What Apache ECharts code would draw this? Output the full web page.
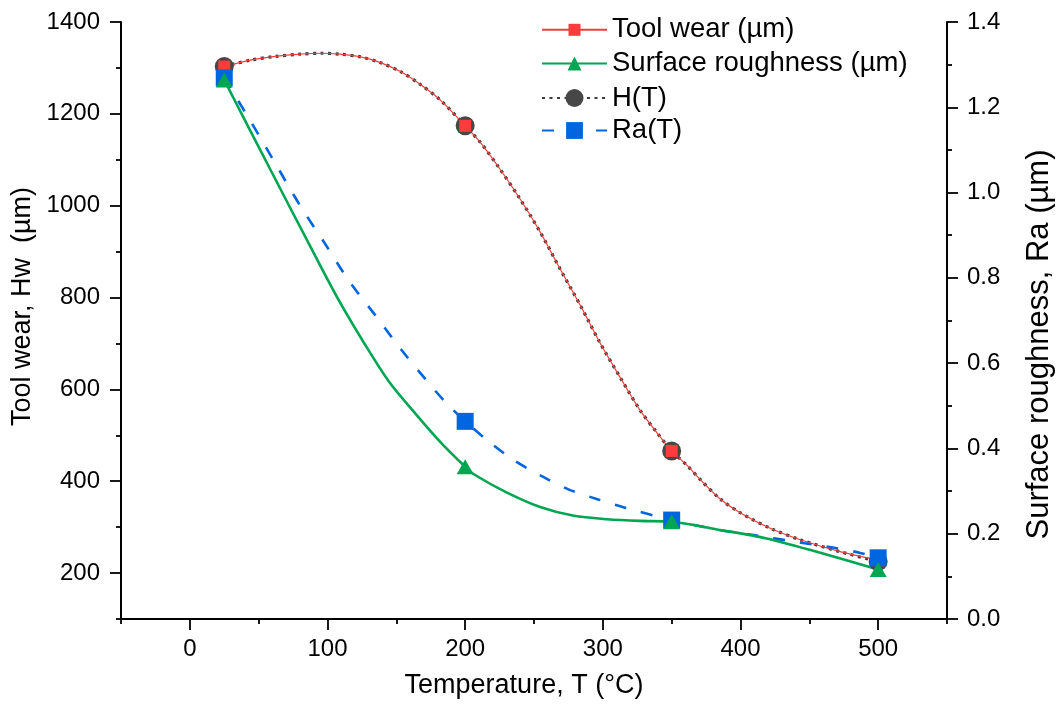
<!DOCTYPE html>
<html><head><meta charset="utf-8">
<script src="https://cdn.jsdelivr.net/npm/echarts@6/dist/echarts.min.js"></script>
<style>html,body{margin:0;padding:0;background:#fff}#c{width:1056px;height:708px}</style>
</head><body><div id="c"></div>
<script>
// ---- measured data points ----
const temps = [25, 200, 350, 500];
const toolWear = [1303, 1174, 466, 228];               // µm (left axis)
const surfaceRoughness = [1.264, 0.357, 0.228, 0.116]; // µm (right axis)
const hFit = [1303, 1174, 466, 225];                   // H(T) markers (left axis)
const raFit = [1.269, 0.4635, 0.232, 0.1435];          // Ra(T) markers (right axis)

// ---- curves ----
const wearCurveT = [25, 44, 62, 80, 95, 109, 124, 138, 153, 167, 182, 200, 211, 225, 240, 255, 269, 284, 298, 313, 327, 339, 350, 361, 371, 385, 400, 422, 444, 473, 500];
const wearCurveV = [1303, 1317, 1325, 1330, 1332, 1330, 1324, 1312, 1292, 1265, 1230, 1174, 1138, 1081, 1014, 940, 862, 781, 701, 624, 555, 507, 466, 435, 403, 362, 331, 297, 272, 246, 228];
const roughCurveT = [25, 58, 91, 109, 127, 145, 164, 182, 200, 206, 230, 255, 279, 303, 327, 350, 383, 419, 456, 500];
const roughCurveV = [1.264, 1.057, 0.852, 0.743, 0.645, 0.555, 0.481, 0.415, 0.357, 0.340, 0.297, 0.262, 0.242, 0.234, 0.230, 0.228, 0.210, 0.189, 0.157, 0.116];
const raCurveT = [25, 44, 62, 80, 98, 116, 135, 153, 171, 185, 200, 218, 236, 255, 275, 296, 316, 350, 383, 407, 444, 468, 487, 500];
const raCurveV = [1.269, 1.168, 1.069, 0.970, 0.881, 0.791, 0.711, 0.634, 0.563, 0.511, 0.4635, 0.414, 0.371, 0.336, 0.304, 0.281, 0.261, 0.232, 0.210, 0.198, 0.179, 0.167, 0.155, 0.1435];

// ---- tick labels ----
const xTicks = [0, 100, 200, 300, 400, 500];
const xMinor = [-50, 50, 150, 250, 350, 450, 550];
const yLeftTicks = [200, 400, 600, 800, 1000, 1200, 1400];
const yLeftMinor = [100, 300, 500, 700, 900, 1100, 1300];
const yRightTicks = [0, 0.2, 0.4, 0.6, 0.8, 1.0, 1.2, 1.4];
const yRightMinor = [0.1, 0.3, 0.5, 0.7, 0.9, 1.1, 1.3];

const FONT = 'Arial, "Liberation Sans", sans-serif';

function merge(ct, cv, pt, pv) {
  const items = [];
  ct.forEach((t, i) => {
    if (!pt.some(p => Math.abs(p - t) < 1)) items.push({ value: [t, cv[i]], symbol: 'none' });
  });
  pt.forEach((t, i) => items.push({ value: [t, pv[i]] }));
  items.sort((a, b) => a.value[0] - b.value[0]);
  return items;
}

const axisLineStyle = { color: '#000', width: 2 };
const tickStyle = { color: '#000', width: 1.8 };

const chart = echarts.init(document.getElementById('c'), null, { renderer: 'canvas' });
chart.setOption({
  animation: false,
  backgroundColor: '#fff',
  textStyle: { fontFamily: FONT },
  grid: { left: 121, right: 109, top: 22, bottom: 89, containLabel: false, outerBoundsMode: 'none' },
  legend: [
    { name: 'Tool wear (µm)', top: 15.8, itemHeight: 15 },
    { name: 'Surface roughness (µm)', top: 49.5, itemHeight: 17.5 },
    { name: 'H(T)', top: 84, itemHeight: 22.5 },
    { name: 'Ra(T)', top: 116.5, itemHeight: 21 }
  ].map(l => ({
    data: [l.name], left: 541, top: l.top, padding: 0, itemWidth: 65, itemHeight: l.itemHeight,
    selectedMode: false, textStyle: { fontSize: 27.5, color: '#000', fontFamily: FONT }
  })),
  xAxis: [{
    type: 'value', min: -50, max: 550,
    name: 'Temperature, T (°C)', nameLocation: 'middle', nameGap: 53,
    nameTextStyle: { fontSize: 27, color: '#000', fontFamily: FONT, padding: [0, 20, 0, 0] },
    axisLine: { show: true, onZero: false, lineStyle: axisLineStyle },
    axisTick: { show: true, length: 11, lineStyle: tickStyle, customValues: xTicks },
    axisLabel: { fontSize: 24, color: '#000', margin: 18, customValues: xTicks, fontFamily: FONT,
      formatter: v => String(v) },
    splitLine: { show: false }
  }, {
    type: 'value', min: -50, max: 550, position: 'bottom',
    axisLine: { show: false, onZero: false },
    axisTick: { show: true, length: 5, lineStyle: tickStyle, customValues: xMinor },
    axisLabel: { show: false }, splitLine: { show: false }
  }],
  yAxis: [{
    type: 'value', min: 100, max: 1400, position: 'left',
    name: 'Tool wear, Hw  (µm)', nameLocation: 'middle', nameGap: 82,
    nameTextStyle: { fontSize: 27, color: '#000', fontFamily: FONT, padding: [0, 0, 0, 28] },
    axisLine: { show: true, onZero: false, lineStyle: axisLineStyle },
    axisTick: { show: true, length: 11, lineStyle: tickStyle, customValues: yLeftTicks },
    axisLabel: { fontSize: 24, color: '#000', margin: 21, customValues: yLeftTicks, fontFamily: FONT,
      formatter: v => String(v) },
    splitLine: { show: false }
  }, {
    type: 'value', min: 0, max: 1.4, position: 'right',
    name: 'Surface roughness, Ra (µm)', nameLocation: 'middle', nameGap: 77,
    nameTextStyle: { fontSize: 31, color: '#000', fontFamily: FONT, padding: [0, 48, 0, 0] },
    axisLine: { show: true, onZero: false, lineStyle: axisLineStyle },
    axisTick: { show: true, length: 11, lineStyle: tickStyle, customValues: yRightTicks },
    axisLabel: { fontSize: 24, color: '#000', margin: 20, customValues: yRightTicks, fontFamily: FONT,
      formatter: v => v.toFixed(1) },
    splitLine: { show: false }
  }, {
    type: 'value', min: 100, max: 1400, position: 'left',
    axisLine: { show: false, onZero: false },
    axisTick: { show: true, length: 5, lineStyle: tickStyle, customValues: yLeftMinor },
    axisLabel: { show: false }, splitLine: { show: false }
  }, {
    type: 'value', min: 0, max: 1.4, position: 'right',
    axisLine: { show: false, onZero: false },
    axisTick: { show: true, length: 5, lineStyle: tickStyle, customValues: yRightMinor },
    axisLabel: { show: false }, splitLine: { show: false }
  }],
  series: [{
    name: 'H(T)', type: 'line', xAxisIndex: 0, yAxisIndex: 0, smooth: 0.3, silent: true,
    symbol: 'circle', symbolSize: 19, showSymbol: true,
    itemStyle: { color: '#474747' },
    lineStyle: { color: '#3c3c3c', width: 3.2, type: [3, 4.5] },
    emphasis: { disabled: true },
    data: merge(wearCurveT, wearCurveV, temps, hFit)
  }, {
    name: 'Tool wear (µm)', type: 'line', xAxisIndex: 0, yAxisIndex: 0, smooth: 0.3, silent: true,
    symbol: 'rect', symbolSize: 12, showSymbol: true,
    itemStyle: { color: '#fb3c3c' },
    lineStyle: { color: '#fb3c3c', width: 1.2 },
    emphasis: { disabled: true },
    data: merge(wearCurveT, wearCurveV, temps, toolWear)
  }, {
    name: 'Ra(T)', type: 'line', xAxisIndex: 0, yAxisIndex: 1, smooth: 0.3, silent: true,
    symbol: 'rect', symbolSize: 17, showSymbol: true,
    itemStyle: { color: '#0066e0' },
    lineStyle: { color: '#0066e0', width: 2.6, type: [12, 15] },
    emphasis: { disabled: true },
    data: merge(raCurveT, raCurveV, temps, raFit)
  }, {
    name: 'Surface roughness (µm)', type: 'line', xAxisIndex: 0, yAxisIndex: 1, smooth: 0.3, silent: true,
    symbol: 'triangle', symbolSize: [17, 15], showSymbol: true,
    itemStyle: { color: '#00a651' },
    lineStyle: { color: '#00a651', width: 2.6 },
    emphasis: { disabled: true },
    data: merge(roughCurveT, roughCurveV, temps, surfaceRoughness)
  }]
});
</script>
</body></html>
